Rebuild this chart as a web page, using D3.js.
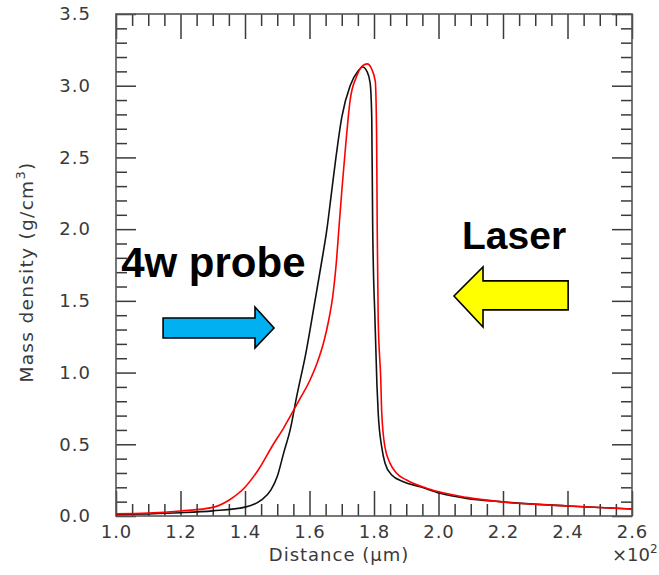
<!DOCTYPE html>
<html><head><meta charset="utf-8">
<script src="https://cdn.jsdelivr.net/npm/d3@7"></script>
<style>body{margin:0;background:#fff}svg{display:block}</style>
</head><body>
<svg id="c" width="659" height="575"></svg>
<script>
// Distance in units of ×10² µm, mass density in g/cm³
const blackX = [1.00,1.10,1.20,1.30,1.40,1.45,1.48,1.50,1.52,1.54,1.56,1.59,1.617,1.636,1.654,1.668,1.682,1.700,1.726,1.750,1.765,1.778,1.788,1.793,1.796,1.803,1.809,1.813,1.824,1.834,1.855,1.891,1.943,2.005,2.087,2.19,2.40,2.60];
const blackY = [0.010,0.015,0.023,0.036,0.062,0.110,0.18,0.275,0.44,0.60,0.83,1.15,1.50,1.75,2.00,2.25,2.50,2.78,3.00,3.10,3.13,3.10,3.02,2.78,2.00,1.37,0.92,0.72,0.48,0.37,0.286,0.239,0.204,0.158,0.123,0.100,0.070,0.049];
const redX = [1.00,1.10,1.20,1.30,1.35,1.40,1.445,1.485,1.52,1.550,1.575,1.602,1.625,1.645,1.660,1.672,1.684,1.692,1.701,1.712,1.726,1.746,1.765,1.779,1.792,1.804,1.808,1.810,1.813,1.821,1.824,1.834,1.850,1.870,1.901,1.963,2.087,2.19,2.40,2.60];
const redY = [0.015,0.020,0.035,0.060,0.110,0.200,0.335,0.490,0.615,0.735,0.835,0.950,1.075,1.220,1.370,1.530,1.790,2.030,2.290,2.580,2.900,3.064,3.140,3.152,3.12,3.03,2.67,2.00,1.37,0.95,0.72,0.48,0.367,0.298,0.251,0.193,0.130,0.100,0.070,0.049];
const xMajor = [1.0,1.2,1.4,1.6,1.8,2.0,2.2,2.4,2.6];
const yMajor = [0.0,0.5,1.0,1.5,2.0,2.5,3.0,3.5];
const xTitle = "Distance (\u03bcm)";
const yTitle = "Mass density (g/cm";
const probeLabel = "4w probe";
const laserLabel = "Laser";
// arrow outlines in data coordinates
const probeArrow = [[1.146,1.381],[1.431,1.381],[1.431,1.457],[1.490,1.311],[1.431,1.172],[1.431,1.241],[1.146,1.241]];
const laserArrow = [[2.402,1.639],[2.138,1.639],[2.138,1.736],[2.048,1.534],[2.138,1.318],[2.138,1.437],[2.402,1.437]];

const svg = d3.select("#c");
const L=116, R=632, T=14, B=516;
const x = d3.scaleLinear().domain([1.0,2.6]).range([L,R]);
const y = d3.scaleLinear().domain([0,3.5]).range([B,T]);
const font = "'DejaVu Sans', sans-serif";
const tickCol = "#3a3a3a";
const fs = 18;

const xMinor = d3.range(0,33).map(i=>1.0+i*0.05).filter(v=>!xMajor.some(m=>Math.abs(m-v)<1e-6));
const yMinor = d3.range(0,36).map(i=>i*0.1).filter(v=>!yMajor.some(m=>Math.abs(m-v)<1e-6));

function styleAxis(g){ g.select(".domain").remove(); g.selectAll(".tick line").attr("stroke",tickCol).attr("stroke-width",1.5); }
function styleText(g){ g.selectAll("text").attr("font-family",font).attr("font-size",fs).attr("fill","#3a3a3a").attr("letter-spacing",1); }

// bottom
svg.append("g").attr("transform",`translate(0,${B})`)
  .call(d3.axisBottom(x).tickValues(xMajor).tickSize(-25).tickPadding(9).tickFormat(d3.format(".1f")))
  .call(styleAxis).call(styleText);
svg.append("g").attr("transform",`translate(0,${B})`)
  .call(d3.axisBottom(x).tickValues(xMinor).tickSize(-12).tickFormat(""))
  .call(styleAxis);
// top
svg.append("g").attr("transform",`translate(0,${T})`)
  .call(d3.axisTop(x).tickValues(xMajor).tickSize(-25).tickFormat(""))
  .call(styleAxis);
svg.append("g").attr("transform",`translate(0,${T})`)
  .call(d3.axisTop(x).tickValues(xMinor).tickSize(-12).tickFormat(""))
  .call(styleAxis);
// left
svg.append("g").attr("transform",`translate(${L},0)`)
  .call(d3.axisLeft(y).tickValues(yMajor).tickSize(-20).tickPadding(25).tickFormat(d3.format(".1f")))
  .call(styleAxis).call(styleText);
svg.append("g").attr("transform",`translate(${L},0)`)
  .call(d3.axisLeft(y).tickValues(yMinor).tickSize(-11).tickFormat(""))
  .call(styleAxis);
// right
svg.append("g").attr("transform",`translate(${R},0)`)
  .call(d3.axisRight(y).tickValues(yMajor).tickSize(-20).tickFormat(""))
  .call(styleAxis);
svg.append("g").attr("transform",`translate(${R},0)`)
  .call(d3.axisRight(y).tickValues(yMinor).tickSize(-11).tickFormat(""))
  .call(styleAxis);

// frame
svg.append("rect").attr("x",L).attr("y",T).attr("width",R-L).attr("height",B-T)
  .attr("fill","none").attr("stroke","#555").attr("stroke-width",1.6);

// curves
const line = d3.line().x(d=>x(d[0])).y(d=>y(d[1])).curve(d3.curveMonotoneX);
svg.append("path").datum(blackX.map((v,i)=>[v,blackY[i]]))
  .attr("d",line).attr("fill","none").attr("stroke","#111").attr("stroke-width",1.6);
svg.append("path").datum(redX.map((v,i)=>[v,redY[i]]))
  .attr("d",line).attr("fill","none").attr("stroke","#ff0000").attr("stroke-width",1.6);

// axis titles
svg.append("text").attr("x",339).attr("y",561).attr("text-anchor","middle")
  .attr("font-family",font).attr("font-size",fs).attr("fill","#3a3a3a").attr("letter-spacing",1).text(xTitle);
const xt = svg.append("text").attr("x",612).attr("y",561)
  .attr("font-family",font).attr("font-size",fs).attr("fill","#3a3a3a");
xt.append("tspan").text("\u00d710");
xt.append("tspan").attr("dy",-8).attr("font-size",12).text("2");
const yt = svg.append("text").attr("transform","translate(33,272) rotate(-90)").attr("text-anchor","middle")
  .attr("font-family",font).attr("font-size",fs+0.5).attr("fill","#3a3a3a").attr("letter-spacing",1.3);
yt.append("tspan").text(yTitle);
yt.append("tspan").attr("dy",-8).attr("font-size",13).text("3");
yt.append("tspan").attr("dy",8).text(")");

// annotations
const poly = d3.line().x(d=>x(d[0])).y(d=>y(d[1]));
svg.append("path").attr("d",poly(probeArrow)+"Z").attr("fill","#00b0f0").attr("stroke","#000").attr("stroke-width",1.6).attr("stroke-linejoin","miter");
svg.append("path").attr("d",poly(laserArrow)+"Z").attr("fill","#ffff00").attr("stroke","#000").attr("stroke-width",1.6).attr("stroke-linejoin","miter");
svg.append("text").attr("x",x(1.016)).attr("y",y(1.667)).attr("font-family","'Liberation Sans', Arial, sans-serif")
  .attr("font-weight","bold").attr("font-size",42).attr("fill","#000").text(probeLabel);
svg.append("text").attr("x",x(2.073)).attr("y",y(1.862)).attr("font-family","'Liberation Sans', Arial, sans-serif")
  .attr("font-weight","bold").attr("font-size",39).attr("fill","#000").text(laserLabel);
</script>
</body></html>
